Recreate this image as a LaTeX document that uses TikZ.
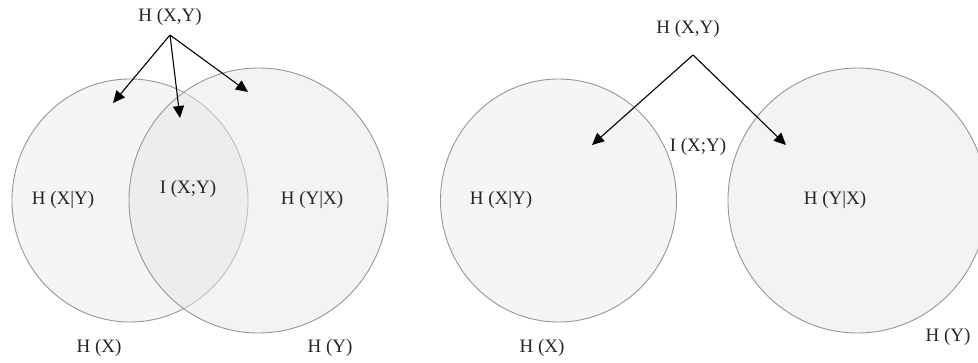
\documentclass[tikz,border=0pt]{standalone}
\usepackage{fontspec}
\setmainfont{Liberation Serif}
\usetikzlibrary{arrows.meta}
\definecolor{fillX}{RGB}{245,245,245}
\definecolor{fillY}{RGB}{229,231,232}
\definecolor{rim}{RGB}{150,150,150}
\tikzset{
  setX/.style={draw=rim, line width=0.9pt, fill=fillX},
  setY/.style={draw=rim, line width=0.9pt, fill=fillY, fill opacity=0.5},
  lbl/.style={inner sep=0pt, font=\fontsize{19}{22}\selectfont, text=black!85},
  arr/.style={line width=1.1pt, -{Triangle[length=12pt,width=11pt]}}
}
\begin{document}
\begin{tikzpicture}[x=1pt,y=-1pt]
\useasboundingbox (0,0) rectangle (978,362);
% ---------- left: overlapping sets ----------
\draw[setX] (130,200.5) ellipse [x radius=118, y radius=121.5];
\draw[setY] (258.5,200.5) ellipse [x radius=129.5, y radius=132.5];
\node[lbl] (lhxy) at (170,17) {H (X,Y)};
\coordinate (lo) at (170,35);
\coordinate (la) at (113,103);
\coordinate (lb) at (180,118);
\coordinate (lc) at (248,92);
\draw[arr] (lo) -- (la);
\draw[arr] (lo) -- (lb);
\draw[arr] (lo) -- (lc);
\node[lbl] (lhxgy) at (63,200) {H (X|Y)};
\node[lbl] (lixy) at (188,189) {I (X;Y)};
\node[lbl] (lhygx) at (312,200) {H (Y|X)};
\node[lbl] (lhx) at (99,348) {H (X)};
\node[lbl] (lhy) at (330,348) {H (Y)};
% ---------- right: disjoint sets ----------
\draw[setX] (558.5,200.5) ellipse [x radius=118, y radius=121.5];
\draw[setY] (857.5,200.5) ellipse [x radius=129.5, y radius=132.5];
\node[lbl] (rhxy) at (688,29) {H (X,Y)};
\coordinate (ro) at (693,55);
\coordinate (ra) at (592,145);
\coordinate (rb) at (786,145);
\draw[arr] (ro) -- (ra);
\draw[arr] (ro) -- (rb);
\node[lbl] (rixy) at (698,147) {I (X;Y)};
\node[lbl] (rhxgy) at (501,200) {H (X|Y)};
\node[lbl] (rhygx) at (835,200) {H (Y|X)};
\node[lbl] (rhx) at (542,348) {H (X)};
\node[lbl] (rhy) at (948,337) {H (Y)};
\end{tikzpicture}
\end{document}
